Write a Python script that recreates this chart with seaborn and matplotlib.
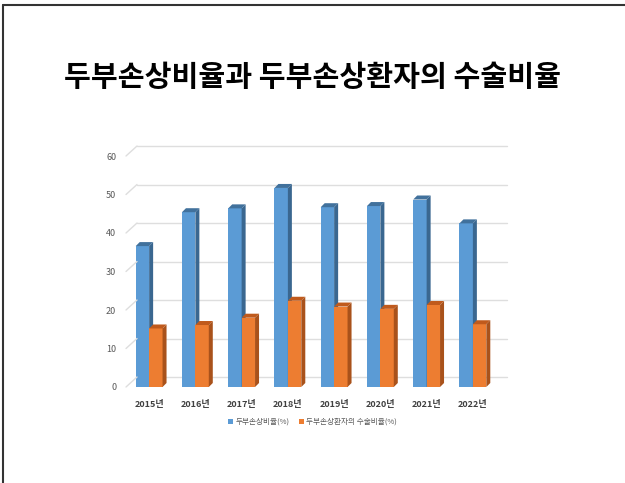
import matplotlib
matplotlib.use("Agg")
import matplotlib.pyplot as plt
import matplotlib.transforms as mtransforms
from matplotlib.patches import Polygon, Patch
from matplotlib.lines import Line2D
import seaborn as sns
import pandas as pd

# ---- data ----
years = ["2015년", "2016년", "2017년", "2018년", "2019년", "2020년", "2021년", "2022년"]
injury_rate = [36.6, 45.4, 46.4, 51.7, 46.7, 47.0, 48.7, 42.5]
surgery_rate = [15.2, 16.1, 18.0, 22.4, 20.9, 20.3, 21.3, 16.3]
series_names = ["두부손상비율(%)", "두부손상환자의 수술비율(%)"]
y_ticks = [0, 10, 20, 30, 40, 50, 60]
title_text = "두부손상비율과 두부손상환자의 수술비율"

front_colors = ["#5B9BD5", "#ED7D31"]
top_colors = ["#41719C", "#C05A1C"]
side_colors = ["#3A6790", "#A9521B"]

df = pd.DataFrame({
    "year": years * 2,
    "value": injury_rate + surgery_rate,
    "series": [series_names[0]] * len(years) + [series_names[1]] * len(years),
})

sns.set_theme(style="white")
plt.rcParams["font.family"] = ["Noto Sans CJK KR", "DejaVu Sans"]

W, H = 625, 483
fig = plt.figure(figsize=(W / 100, H / 100), dpi=100)
ax = fig.add_axes([126 / W, 1 - 387 / H, 370 / W, 231 / H])

sns.barplot(data=df, x="year", y="value", hue="series", palette=front_colors,
            saturation=1, width=0.58, gap=0, edgecolor="none", linewidth=0,
            legend=False, ax=ax)
ax.set_xlim(-0.5, len(years) - 0.5)
ax.set_ylim(0, 60)

# back wall and side wall gridlines (3-D look)
wall_dx, wall_dy = 11, 10
back = mtransforms.offset_copy(ax.transData, fig=fig, x=wall_dx, y=wall_dy, units="dots")
x_left, x_right = -0.5, len(years) - 0.5
for t in y_ticks:
    ax.plot([x_left, x_right], [t, t], transform=back, color="#DEDEDE",
            lw=1.0, zorder=0, clip_on=False)
    # diagonal on the left side wall
    p0 = ax.transData.transform((x_left, t))
    p1 = back.transform((x_left, t))
    fig.add_artist(Line2D([p0[0] / W, p1[0] / W], [p0[1] / H, p1[1] / H],
                          transform=fig.transFigure, color="#DEDEDE", lw=1.0))

# depth faces of each bar
px_x = 370 / len(years)
px_y = 231 / 60
depth_x = 4.0 / px_x
depth_y = 4.0 / px_y
n = len(years)
for i, bar in enumerate(ax.patches[: 2 * n]):
    s = i // n
    bar.set_zorder(2 + 2 * s)
    x0 = bar.get_x()
    x1 = x0 + bar.get_width()
    h = bar.get_height()
    top = Polygon([(x0, h), (x0 + depth_x, h + depth_y), (x1 + depth_x, h + depth_y), (x1, h)],
                  closed=True, facecolor=top_colors[s], edgecolor="none", zorder=2 + 2 * s)
    side = Polygon([(x1, 0), (x1, h), (x1 + depth_x, h + depth_y), (x1 + depth_x, depth_y)],
                   closed=True, facecolor=side_colors[s], edgecolor="none", zorder=2 + 2 * s)
    ax.add_patch(top)
    ax.add_patch(side)

for sp in ax.spines.values():
    sp.set_visible(False)
ax.set_xlabel("")
ax.set_ylabel("")
ax.set_yticks(y_ticks)
ax.set_yticklabels([str(t) for t in y_ticks])
ax.tick_params(axis="y", length=0, pad=7, labelsize=6.5, labelcolor="#595959")
ax.tick_params(axis="x", length=0, pad=9, labelsize=6.5, labelcolor="#404040")
for lab in ax.get_xticklabels():
    lab.set_fontweight("bold")
ax.grid(False)
ax.set_facecolor("none")

# legend
handles = [Patch(facecolor=c, edgecolor="none") for c in front_colors]
fig.legend(handles, series_names, loc="center", bbox_to_anchor=(0.5, 1 - 422 / H),
           ncol=2, frameon=False, fontsize=5.5, handlelength=0.7, handleheight=0.7,
           handletextpad=0.3, columnspacing=1.2, labelcolor="#595959")

# title
fig.text(0.5, 1 - 77 / H, title_text, ha="center", va="center",
         fontsize=21, fontweight="bold", color="black")

# slide frame
fig.add_artist(Line2D([2.5 / W, 1], [1 - 4.5 / H, 1 - 4.5 / H], transform=fig.transFigure,
                      color="#333333", lw=1.5))
fig.add_artist(Line2D([2.5 / W, 2.5 / W], [0, 1 - 4.5 / H], transform=fig.transFigure,
                      color="#333333", lw=1.5))

fig.savefig("out.png", dpi=100)
